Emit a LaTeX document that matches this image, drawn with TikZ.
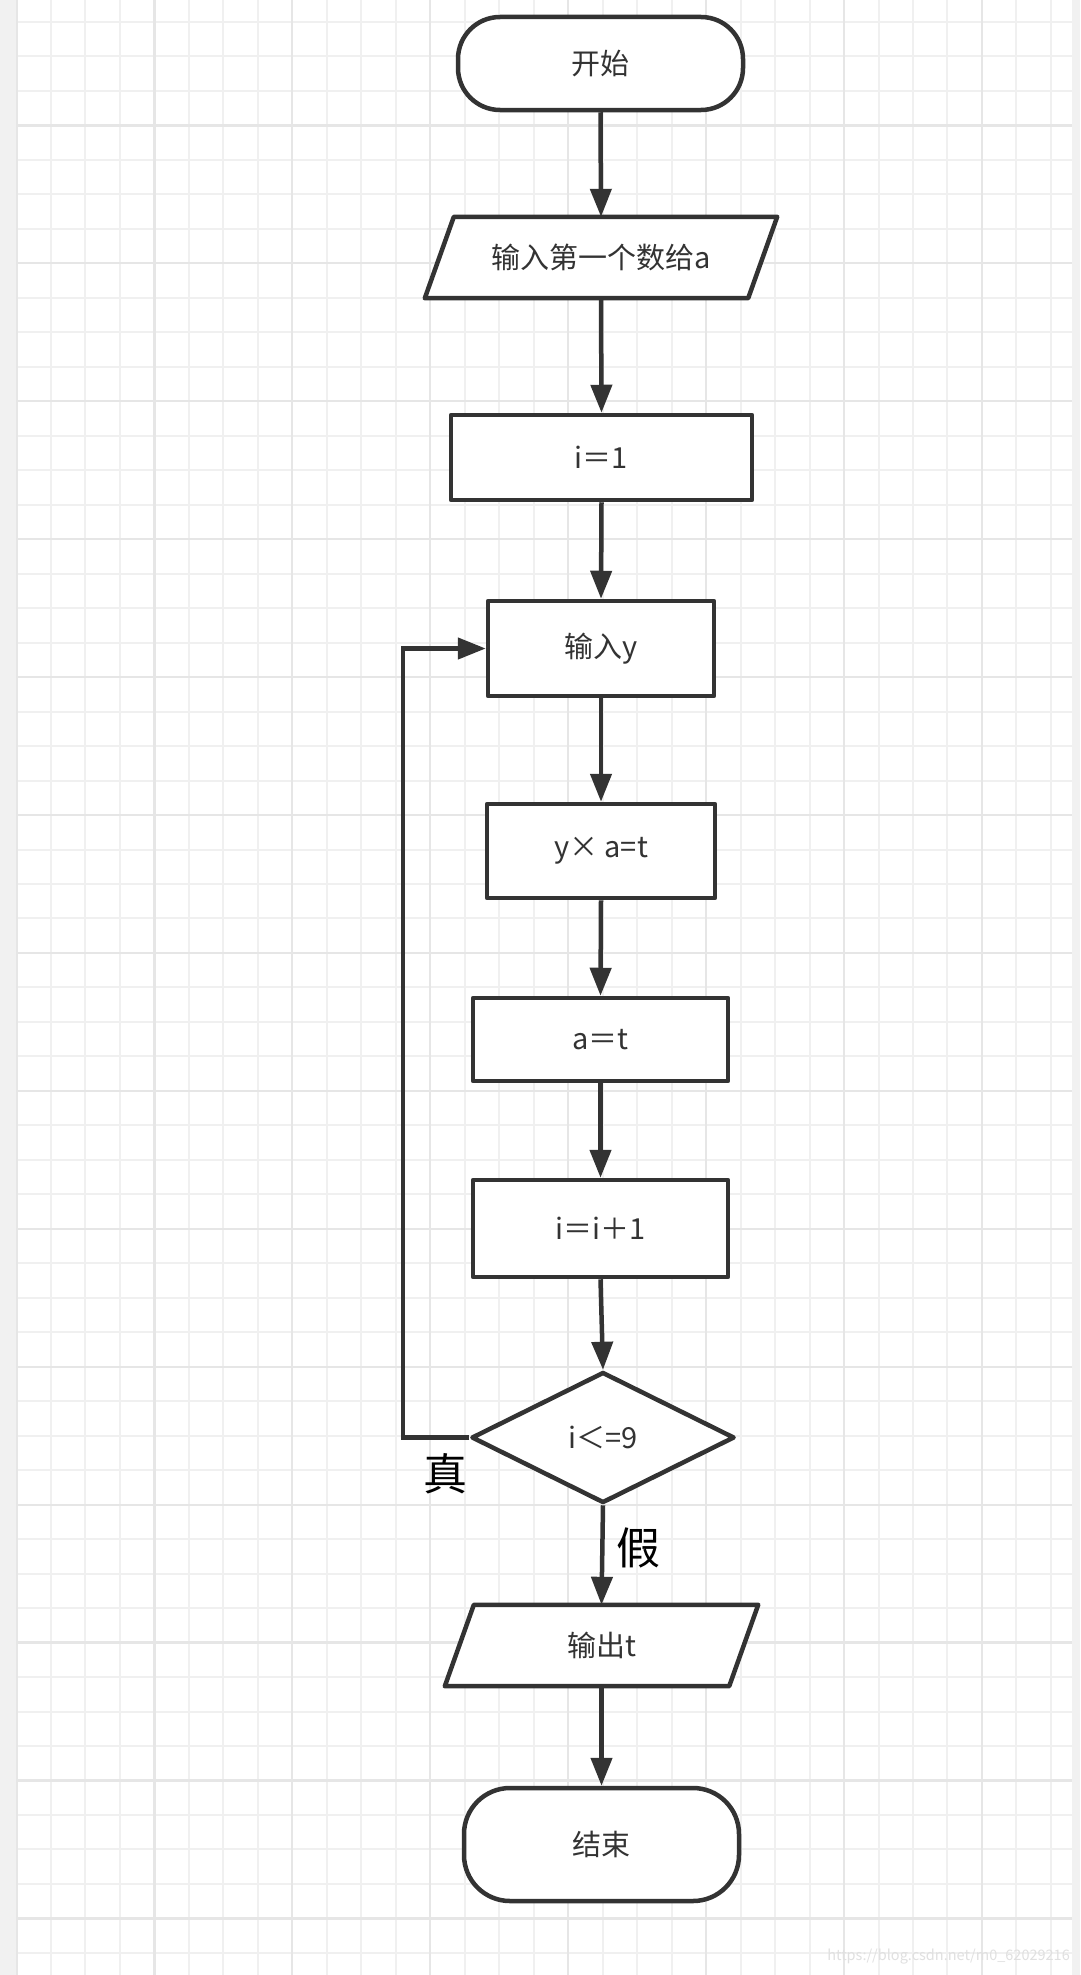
\documentclass[tikz,border=0pt]{standalone}
\usepackage{fontspec}
\setmainfont{Noto Sans CJK SC}
\usetikzlibrary{arrows.meta,shapes.geometric}
\definecolor{ink}{HTML}{333333}
\definecolor{stripgray}{HTML}{F1F1F1}
\definecolor{gridminor}{HTML}{F0F0F0}
\definecolor{gridmajor}{HTML}{E6E6E6}
\tikzset{
  shapeline/.style={draw=ink, line width=4.5pt, line join=round},
  box/.style={shapeline, fill=white, rectangle, inner sep=0pt, text=ink, font=\fontsize{29}{33}\selectfont},
  term/.style={box, rounded corners=42pt},
  iobox/.style={rectangle, inner sep=0pt, text=ink, font=\fontsize{29}{33}\selectfont},
  decision/.style={shapeline, fill=white, diamond, aspect=2, inner sep=0pt, text=ink, font=\fontsize{29}{33}\selectfont},
  flow/.style={draw=ink, line width=4.5pt, -{Triangle[length=28pt,width=21pt]}},
  lbl/.style={text=black, inner sep=0pt, font=\fontsize{44}{48}\selectfont},
}
\begin{document}
\begin{tikzpicture}[x=1pt,y=-1pt]
\useasboundingbox (0,0) rectangle (1080,1975);
% background and grid
\fill[stripgray] (0,0) rectangle (1080,1975);
\fill[white] (16,0) rectangle (1072,1975);
\begin{scope}
\clip (16,0) rectangle (1072,1975);
\foreach \k in {0,...,30} \draw[gridminor, line width=2pt] ({16.5+34.48*\k},0) -- ({16.5+34.48*\k},1975);
\foreach \k in {0,...,56} \draw[gridminor, line width=2pt] (16,{22+34.48*\k}) -- (1072,{22+34.48*\k});
\foreach \k in {0,4,...,28} \draw[gridmajor, line width=2.2pt] ({16.5+34.48*\k},0) -- ({16.5+34.48*\k},1975);
\foreach \k in {3,7,...,55} \draw[gridmajor, line width=2.2pt] (16,{22+34.48*\k}) -- (1072,{22+34.48*\k});
\end{scope}

% nodes
\node[term, minimum width=285pt, minimum height=93pt] (start) at (600.5,63.5) {开始};

\node[iobox, minimum width=352pt, minimum height=81pt] (in1) at (601,257.5) {输入第一个数给a};
\draw[shapeline, fill=white] ([xshift=29pt]in1.north west) -- (in1.north east) -- ([xshift=-29pt]in1.south east) -- (in1.south west) -- cycle;
\node[iobox, minimum width=352pt, minimum height=81pt] at (in1) {输入第一个数给a};

\node[box, minimum width=301pt, minimum height=85pt] (i1) at (601.5,457.5) {i＝1};
\node[box, minimum width=226pt, minimum height=95pt] (iny) at (601,648.5) {输入y};
\node[box, minimum width=228pt, minimum height=94pt] (mul) at (601,851) {y× a=t};
\node[box, minimum width=255pt, minimum height=83pt] (at) at (600.5,1039.5) {a＝t};
\node[box, minimum width=255pt, minimum height=97pt] (inc) at (600.5,1228.5) {i＝i＋1};
\node[decision, minimum width=263pt, minimum height=131pt] (dec) at (603,1437.5) {i＜=9};

\node[iobox, minimum width=313pt, minimum height=81pt] (out) at (601.5,1645.5) {输出t};
\draw[shapeline, fill=white] ([xshift=29pt]out.north west) -- (out.north east) -- ([xshift=-29pt]out.south east) -- (out.south west) -- cycle;
\node[iobox, minimum width=313pt, minimum height=81pt] at (out) {输出t};

\node[term, minimum width=275pt, minimum height=113pt, rounded corners=46pt] (stop) at (601.5,1844.5) {结束};

% connectors
\draw[flow] (start.south) -- (in1.north);
\draw[flow] (in1.south) -- (i1.north);
\draw[flow] (i1.south) -- (iny.north);
\draw[flow] (iny.south) -- (mul.north);
\draw[flow] (mul.south) -- (at.north);
\draw[flow] (at.south) -- (inc.north);
\draw[flow] (inc.south) -- (dec.north);
\draw[flow] (dec.south) -- (out.north);
\draw[flow] (out.south) -- (stop.north);
\coordinate (loopc) at (403,1437.5);
\draw[flow, line join=miter] (dec.west) -- (loopc) |- (iny.west);

% labels
\node[lbl] (yes) at (445,1474) {真};
\node[lbl] (no) at (638,1548) {假};

% watermark
\node[anchor=east, inner sep=0pt, text=black!12, font=\fontsize{14.5}{16}\selectfont] (wm) at (1070,1957) {https://blog.csdn.net/m0\_62029216};
\end{tikzpicture}
\end{document}
